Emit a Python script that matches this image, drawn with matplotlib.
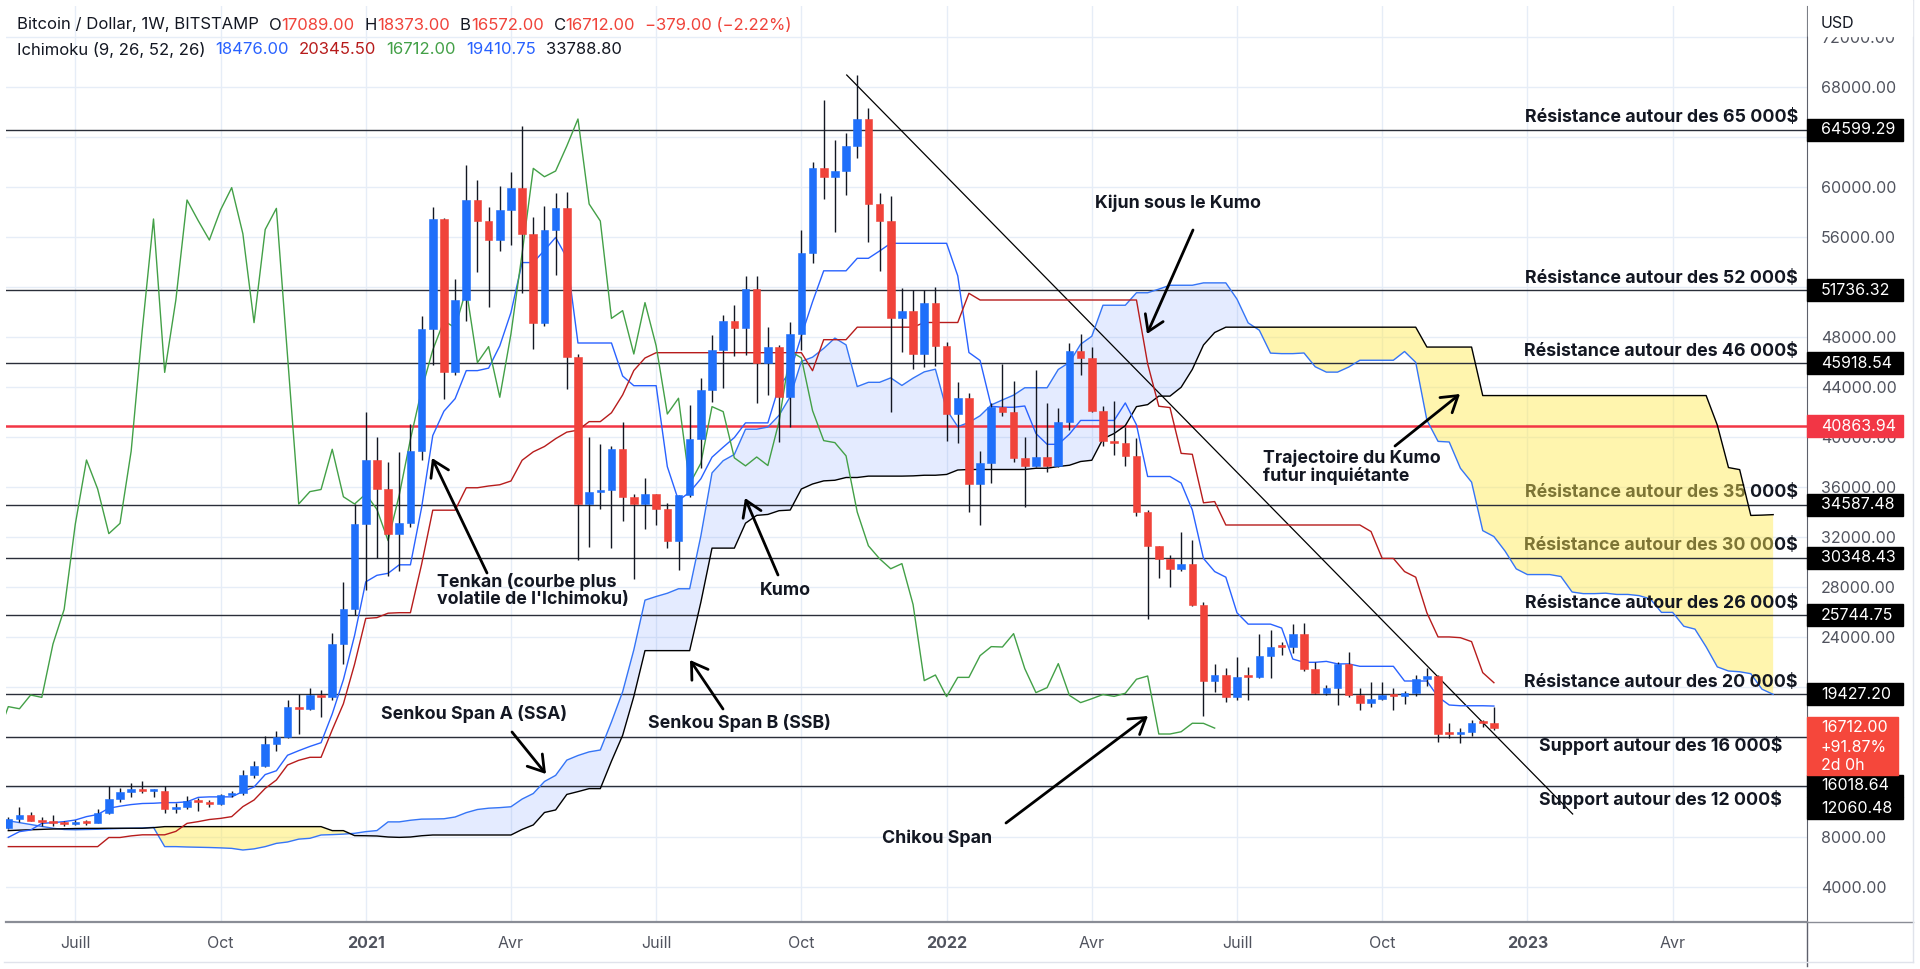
import numpy as np
import pandas as pd
import matplotlib
matplotlib.use("Agg")
import matplotlib.pyplot as plt
from matplotlib.patches import Rectangle
from matplotlib.lines import Line2D

plt.rcParams['font.family'] = ['Inter', 'DejaVu Sans']

# BTC / USD weekly candles (Bitstamp), first week starts 2020-05-25
first_week = "2020-05-25"
opens = [8720, 9440, 9760, 9310, 9230, 9100, 9030, 9240, 9160, 9890,
         11010, 11640, 11850, 11660, 11720, 10240, 10380, 10870, 10780, 10680,
         11360, 11500, 12960, 13690, 15440, 15970, 18430, 18260, 19360, 19170,
         23440, 26210, 33040, 38160, 35840, 32270, 33090, 38870, 48620, 57440,
         45170, 50960, 58960, 57310, 55760, 58160, 59950, 56260, 49150, 56600,
         58290, 46420, 34640, 35630, 35800, 39020, 35220, 34640, 35440, 34210,
         31710, 35360, 39810, 43760, 46960, 49280, 48750, 51810, 45950, 47230,
         43180, 48240, 54690, 61490, 60820, 61280, 63280, 65440, 58640, 57280,
         49490, 50110, 46640, 50750, 47290, 41840, 43100, 36240, 37900, 42430,
         42030, 38330, 37690, 38400, 37720, 41230, 46860, 46330, 42110, 39710,
         39550, 38490, 34000, 31300, 30260, 29460, 29870, 26600, 20510, 20960,
         19230, 20860, 20770, 22510, 23300, 23200, 24270, 21470, 19550, 19950,
         21870, 19330, 18750, 19060, 19400, 19250, 19500, 20620, 20880, 16300,
         16240, 16420, 17150, 17089]
highs = [9600, 10430, 9980, 9620, 9800, 9280, 9350, 9330, 10210, 12070,
         11930, 12330, 12500, 11820, 12060, 10700, 11270, 11090, 10960, 11420,
         11720, 13360, 14080, 16070, 16480, 18960, 19410, 19890, 19800, 24290,
         28420, 34640, 41970, 40030, 38030, 38780, 41060, 49700, 58370, 57500,
         52640, 61760, 60600, 58400, 60100, 61200, 64880, 57600, 58480, 59550,
         59600, 46640, 40000, 39440, 39280, 41230, 35440, 36740, 35440, 34700,
         35400, 42560, 44700, 48160, 49760, 50550, 52900, 52900, 48800, 47400,
         49200, 56560, 62000, 66960, 63760, 64300, 68960, 66290, 59490, 59280,
         51950, 51800, 51800, 52000, 47600, 44400, 43500, 38900, 42700, 45870,
         44500, 40000, 45340, 42700, 42300, 47500, 48250, 47200, 42500, 42900,
         40800, 39900, 34200, 31300, 30600, 32390, 31760, 26800, 21840, 21560,
         22380, 21600, 24240, 24600, 23600, 25040, 25150, 21970, 20200, 22020,
         22800, 19890, 20420, 20400, 19950, 19700, 21000, 21500, 21000, 17140,
         16700, 17400, 17400, 18373]
lows = [8640, 9230, 9250, 8900, 8860, 8900, 9000, 9000, 9130, 9840,
        10820, 11240, 11560, 11240, 9920, 9920, 10240, 10120, 10400, 10600,
        11200, 11400, 12750, 13600, 14850, 15900, 16220, 18200, 17580, 19000,
        21860, 25760, 27760, 30290, 28860, 29260, 32820, 38160, 45760, 43030,
        45000, 49300, 53220, 50430, 54900, 55400, 51550, 47050, 48850, 52950,
        43810, 30160, 31200, 34210, 31100, 33300, 28610, 32660, 33000, 31090,
        29360, 35230, 37500, 42830, 43950, 46500, 46600, 42750, 43400, 39630,
        40800, 47000, 53900, 59020, 56430, 59400, 62300, 55600, 53310, 42030,
        46800, 45460, 45600, 45700, 39650, 39500, 34030, 32960, 36300, 41700,
        38000, 34400, 37600, 37200, 37600, 40600, 45000, 42000, 39300, 38600,
        37700, 33700, 25430, 28700, 28000, 29300, 26500, 17670, 19630, 18800,
        18950, 18950, 20700, 20720, 22600, 22700, 21300, 19470, 19400, 18550,
        19230, 18160, 18420, 18950, 18200, 18650, 19250, 20050, 15620, 15900,
        15500, 16050, 16800, 16572]
closes = [9440, 9760, 9310, 9230, 9100, 9030, 9240, 9160, 9890, 11010,
          11640, 11850, 11660, 11720, 10240, 10380, 10870, 10780, 10680, 11360,
          11500, 12960, 13690, 15440, 15970, 18430, 18260, 19360, 19170, 23440,
          26210, 33040, 38160, 35840, 32270, 33090, 38870, 48620, 57440, 45170,
          50960, 58960, 57310, 55760, 58160, 59950, 56260, 49150, 56600, 58290,
          46420, 34640, 35630, 35800, 39020, 35220, 34640, 35440, 34210, 31710,
          35360, 39810, 43760, 46960, 49280, 48750, 51810, 45950, 47230, 43180,
          48240, 54690, 61490, 60820, 61280, 63280, 65440, 58640, 57280, 49490,
          50110, 46640, 50750, 47290, 41840, 43100, 36240, 37900, 42430, 42030,
          38330, 37690, 38400, 37720, 41230, 46860, 46330, 42110, 39710, 39550,
          38490, 34000, 31300, 30260, 29460, 29870, 26600, 20510, 20960, 19230,
          20770, 20770, 22510, 23230, 23200, 24270, 21470, 19550, 19950, 21870,
          19330, 18750, 19060, 19400, 19250, 19500, 20620, 20880, 16240, 16240,
          16420, 17100, 17091, 16712]

# Ichimoku (9, 26, 52, 26) lines
tenkan = [7970, 8430, 8560, 9090, 9150, 9230, 9360, 9630, 9800, 10300,
          10465, 10595, 10680, 10700, 10750, 10750, 10815, 11170, 11210, 11210,
          11210, 11640, 12000, 12995, 13300, 14540, 14905, 15245, 15545, 17845,
          20585, 24120, 28410, 28935, 29095, 29775, 29775, 34350, 40115, 42065,
          43065, 45310, 45310, 45510, 47290, 49960, 53955, 53955, 54940, 55965,
          54345, 47520, 47520, 47520, 47520, 44880, 44105, 44105, 44105, 37625,
          34920, 35585, 36655, 38385, 39185, 39955, 41130, 41130, 41130, 44065,
          45200, 48095, 50815, 53295, 53295, 53295, 54295, 54295, 54880, 55495,
          55495, 55495, 55495, 55495, 55495, 52895, 46760, 46120, 42455, 42380,
          42380, 42480, 40280, 39415, 39415, 40230, 41325, 41325, 41325, 41325,
          42725, 40975, 36840, 36840, 36840, 36315, 34165, 30285, 29235, 28785,
          25935, 25030, 25030, 25030, 24715, 22235, 21975, 21975, 22050, 21850,
          21850, 21655, 21655, 21655, 21655, 20480, 20480, 20480, 19210, 18560,
          18500, 18500, 18500, 18476]
kijun = ([7230] * 9 + [7960, 7960, 8090, 8175, 8175, 8175]
         + [8450, 9090, 9230, 9400, 9490, 9630, 10430, 10960, 11890, 12560,
            13760, 14135, 14375, 14375, 16575, 18660, 21820, 25485, 25550, 25905,
            25945, 25945, 29810]
         + [34145] * 3 + [35940] * 2
         + [36080, 36180, 36480, 38140, 38815, 39240, 39865, 40390, 40550, 41230,
            41230, 41940, 43370, 45320, 46320]
         + [46745] * 14 + [45305] + [47785] * 3 + [48785] * 6 + [49160] * 4
         + [51495] + [50960] * 15
         + [45860, 42460, 42355, 38690, 38615, 34735, 34835]
         + [32960] * 13
         + [32435, 30285, 30285, 29235, 28785, 25935, 24005, 24005, 23945, 23630,
            21150, 20345])
# leading spans are plotted 25 weeks ahead, so they run 25 points past the last candle
span_a = [9300, 9150, 9000, 8850, 8700, 8600, 8580, 8600, 8620, 8650,
          8680, 8700, 8720, 8770, 7230, 7230, 7200, 7180, 7160, 7130,
          7090, 6960, 7050, 7230, 7490,
          7600, 7830, 7895, 8160, 8190, 8230, 8295, 8430, 8515, 9210,
          9210, 9340, 9430, 9440, 9460, 9600, 9950, 10200, 10305, 10350,
          10420, 11035, 11480, 12440, 12930, 14150, 14520, 14810, 14960, 17210,
          19620, 22970, 26950, 27240, 27500, 27860, 27860, 32080, 37130, 38105,
          38605, 40625, 40625, 40795, 41735, 43220, 46050, 46385, 47090, 47915,
          47370, 44035, 44375, 44375, 44730, 44125, 44710, 45210, 45425, 42185,
          40830, 41165, 41700, 42565, 42965, 43350, 43940, 43940, 43940, 45405,
          45970, 47420, 48060, 50540, 50540, 50540, 51540, 51540, 51830, 52140,
          52140, 52140, 52330, 52330, 52330, 51030, 49130, 48540, 46710, 46670,
          46670, 46720, 45620, 45190, 45190, 45595, 46140, 46140, 46140, 46140,
          46840, 45970, 41350, 39650, 39600, 37500, 36390, 32510, 32035, 30870,
          29450, 28995, 28995, 28995, 28840, 27600, 27470, 27470, 27505, 27405,
          27405, 27310, 27045, 25970, 25970, 24860, 24630, 23210, 21610, 21280,
          21220, 21065, 19825, 19411]
span_b = ([8510, 8550, 8580, 8610, 8640, 8660, 8680, 8690, 8690, 8700,
           8700, 8700, 8700, 8750]
          + [8830] * 15
          + [8510, 8510, 8110, 8100, 8080, 8000, 7970, 8000, 8100]
          + [8160] * 8
          + [8605, 8965, 9960, 10165, 11405, 11630, 11870, 11870, 14070, 16135,
             19245, 22910]
          + [22910] * 4
          + [26775, 31110, 31110, 31110, 33105, 33730, 33805, 34105, 34155, 35840,
             36240, 36490, 36540, 36760]
          + [36760] + [36870] * 4 + [36890, 36940, 36940, 37005, 37360]
          + [37400] * 6
          + [37500, 37500, 37640, 37740, 38040, 38140, 39855, 40280, 40905, 42430,
             42590, 43270, 43270, 43980, 45410, 47360, 48360, 48785]
          + [48785] * 17 + [47195] * 5 + [43315] * 21
          + [40955, 37555, 37390, 33725, 33750, 33789])
lag = 25

levels = [64599.29, 51736.32, 45918.54, 34587.48, 30348.43, 25744.75,
          19427.20, 16018.64, 12060.48]
key_level = 40863.94
resistances = [("65 000$", 64599.29), ("52 000$", 51736.32), ("46 000$", 45918.54),
               ("35 000$", 34587.48), ("30 000$", 30348.43), ("26 000$", 25744.75),
               ("20 000$", 19427.20)]
supports = [("16 000$", 16018.64), ("12 000$", 12060.48)]
trend_from = (75.06, 68960)
trend_to = (140.05, 9840)

months_fr = {4: 'Avr', 7: 'Juill', 10: 'Oct'}
# scale values hidden behind the price tags
hidden_ticks = (64000, 52000, 20000, 16000, 12000)

UP = '#1F6FFA'
DOWN = '#F0433A'
TXT = '#131722'

# ---- figure geometry (pixels of the 1920x969 picture)
W, H = 1920, 969
fig = plt.figure(figsize=(W / 100, H / 100), dpi=100)
ax = fig.add_axes([6 / W, 1 - 922 / H, (1807 - 6) / W, (922 - 6) / H])
ax.set_facecolor('white')


def px_x(x):
    return (x - 8.3) / 11.17


def px_y(y):
    return 68000 - (y - 87) * 80


ax.set_xlim(px_x(6), px_x(1807))
ax.set_ylim(px_y(922), px_y(6))

n = len(closes)
xk = np.arange(n)
xs = np.arange(len(span_a))
o, h, l, c = map(np.array, (opens, highs, lows, closes))
sa, sb = np.array(span_a, float), np.array(span_b, float)

# cloud
ax.fill_between(xs, sa, sb, where=sa >= sb, interpolate=True,
                color='#2962FF', alpha=0.12, lw=0, zorder=1.6)
ax.fill_between(xs, sa, sb, where=sa < sb, interpolate=True,
                color='#FFE94D', alpha=0.45, lw=0, zorder=1.6)
ax.plot(xs, sa, color='#3575F6', lw=1.0, zorder=3)
ax.plot(xs, sb, color='black', lw=1.0, zorder=3)

# horizontal levels + trend line
for lv in levels:
    ax.axhline(lv, color='#2A2E39', lw=1.0, zorder=2.2)
ax.axhline(key_level, color='#F23645', lw=1.8, zorder=2.2)
ax.plot([trend_from[0], trend_to[0]], [trend_from[1], trend_to[1]],
        color='black', lw=0.9, zorder=2.3)

# tenkan / kijun / chikou
ax.plot(xk, tenkan, color='#2962FF', lw=1.0, zorder=3)
ax.plot(xk, kijun, color='#B71C1C', lw=1.0, zorder=3)
ax.plot(xk - lag, c, color='#43A047', lw=1.0, zorder=3)

# candles
up = c >= o
cols = np.where(up, UP, DOWN)
body_lo = np.minimum(o, c)
body_h = np.maximum(np.abs(c - o), 160)
ax.vlines(xk, l, h, color=TXT, lw=1.0, zorder=4)
ax.bar(xk, body_h, bottom=body_lo, width=0.68, color=cols, edgecolor=cols,
       lw=0.4, zorder=4.5)

# ---- grid and axes
dates = pd.date_range(first_week, periods=len(span_a), freq='W-MON')
tick_pos, tick_lab = [], []
for i in range(1, len(dates)):
    m = dates[i].month
    if m != dates[i - 1].month and m in (1, 4, 7, 10):
        tick_pos.append(i)
        tick_lab.append(str(dates[i].year) if m == 1 else months_fr[m])
ax.set_xticks(tick_pos)
ax.set_xticklabels(tick_lab)
for t in ax.get_xticklabels():
    if t.get_text().isdigit():
        t.set_fontweight('bold')
        t.set_color(TXT)
ax.tick_params(axis='x', length=0, pad=10, labelsize=11.5, labelcolor='#50535E')

yt = list(range(4000, 76000, 4000))
ax.set_yticks(yt)
ax.set_yticklabels(['' if v in hidden_ticks else f'{v:.2f}' for v in yt])
ax.yaxis.tick_right()
ax.tick_params(axis='y', length=0, pad=10, labelsize=11.5, labelcolor='#50535E')
ax.grid(True, color='#E6EDF7', lw=1.0)
ax.set_axisbelow(True)
for s in ('left', 'top'):
    ax.spines[s].set_visible(False)
ax.spines['right'].set_color('#5D606B')
ax.spines['bottom'].set_color('#8A8D96')
ax.spines['bottom'].set_linewidth(1.6)

# scale separators continued into the corner, plus a faint outer frame
for xx, yy, col in (([1807, 1807], [922, 966], '#5D606B'),
                    ([1807, 1913], [922, 922], '#8A8D96'),
                    ([1913, 1913], [0, 962], '#E0E3EB'),
                    ([4, 1913], [962, 962], '#E0E3EB')):
    fig.lines.append(Line2D([v / W for v in xx], [1 - v / H for v in yy],
                            transform=fig.transFigure, color=col, lw=1.0))

# ---- texts on the chart
bold = dict(fontsize=12.8, fontweight='bold', color=TXT)
for label, lv in resistances:
    z = 1.55 if label in ("35 000$", "30 000$") else 6
    ax.text(px_x(1798), lv + 12 * 80, "Résistance autour des " + label,
            ha='right', va='center', zorder=z, **bold)
for (label, lv), dy in zip(supports, (9, 13)):
    ax.text(px_x(1782), lv - dy * 80, "Support autour des " + label,
            ha='right', va='center', zorder=6, **bold)

notes = [
    ("Tenkan (courbe plus\nvolatile de l'Ichimoku)", (437, 590), (487, 573), (432, 458)),
    ("Kumo", (760, 590), (778, 575), (745, 498)),
    ("Senkou Span B (SSB)", (648, 723), (723, 709), (690, 660)),
    ("Senkou Span A (SSA)", (381, 714), (512, 732), (546, 774)),
    ("Chikou Span", (882, 838), (1006, 823), (1148, 716)),
    ("Kijun sous le Kumo", (1095, 203), (1193, 230), (1147, 334)),
    ("Trajectoire du Kumo\nfutur inquiétante", (1263, 467), (1395, 446), (1460, 394)),
]
for text, (tx, ty), (ax0, ay0), (ax1, ay1) in notes:
    ax.text(px_x(tx), px_y(ty), text, ha='left', va='center', linespacing=1.0,
            zorder=6, **bold)
    ax.annotate('', xy=(px_x(ax1), px_y(ay1)), xytext=(px_x(ax0), px_y(ay0)),
                arrowprops=dict(arrowstyle='->,head_length=0.55,head_width=0.35',
                                mutation_scale=20, lw=2.0, color='black',
                                shrinkA=0, shrinkB=0), zorder=6)

# ---- price tags on the right scale
ytr = ax.get_yaxis_transform()
tag_w = 96 / 1801
tag_h = 22 * 80
tag_pos = {16018.64: 12080, 12060.48: 10300}


def price_tag(value, text, color, yv=None):
    yv = value if yv is None else yv
    ax.add_patch(Rectangle((1.0, yv - tag_h / 2), tag_w, tag_h, transform=ytr,
                           color=color, clip_on=False, zorder=7))
    ax.text(1.0 + 14 / 1801, yv, text, transform=ytr, color='white', fontsize=11.5,
            va='center', ha='left', clip_on=False, zorder=8)


for lv in levels:
    price_tag(lv, f'{lv:.2f}', 'black', tag_pos.get(lv))
price_tag(key_level, f'{key_level:.2f}', '#F23645')

# last price box
ax.add_patch(Rectangle((1.0, px_y(775)), 91 / 1801, px_y(717) - px_y(775),
                       transform=ytr, color='#F5473B', clip_on=False, zorder=7))
for txt, yy in ((f'{closes[-1]:.2f}', 728), ('+91.87%', 747), ('2d 0h', 765)):
    ax.text(1.0 + 14 / 1801, px_y(yy), txt, transform=ytr, color='white',
            fontsize=11.5, va='center', ha='left', clip_on=False, zorder=8)

# white strip over the top of the scale + currency
fig.patches.append(Rectangle((1808 / W, 1 - 36 / H), 104 / W, 36 / H,
                             transform=fig.transFigure, color='white', zorder=5))
fig.text(1821 / W, 1 - 23 / H, 'USD', fontsize=11.5, color=TXT, va='center', zorder=6)

# ---- legend lines at the top left
rend = fig.canvas.get_renderer()


def write_row(x, y, parts):
    for s, col, gap in parts:
        t = fig.text(x / W, 1 - y / H, s, color=col, fontsize=12, va='center', ha='left')
        x = t.get_window_extent(renderer=rend).x1 + gap


chg = closes[-1] - closes[-2]
write_row(17, 25, [
    ("Bitcoin / Dollar, 1W, BITSTAMP", TXT, 10),
    ("O", TXT, 0), (f"{opens[-1]:.2f}", DOWN, 10),
    ("H", TXT, 0), (f"{highs[-1]:.2f}", DOWN, 10),
    ("B", TXT, 0), (f"{lows[-1]:.2f}", DOWN, 10),
    ("C", TXT, 0), (f"{closes[-1]:.2f}", DOWN, 10),
    (f"\u2212{abs(chg):.2f} (\u2212{abs(chg) / closes[-2] * 100:.2f}%)", DOWN, 0),
])
write_row(17, 50, [
    ("Ichimoku (9, 26, 52, 26)", TXT, 10),
    (f"{tenkan[-1]:.2f}", '#2962FF', 10),
    ("20345.50", '#B71C1C', 10),
    (f"{closes[-1]:.2f}", '#43A047', 10),
    ("19410.75", '#2962FF', 10),
    ("33788.80", TXT, 0),
])

fig.savefig('out.png', dpi=100, facecolor='white')
